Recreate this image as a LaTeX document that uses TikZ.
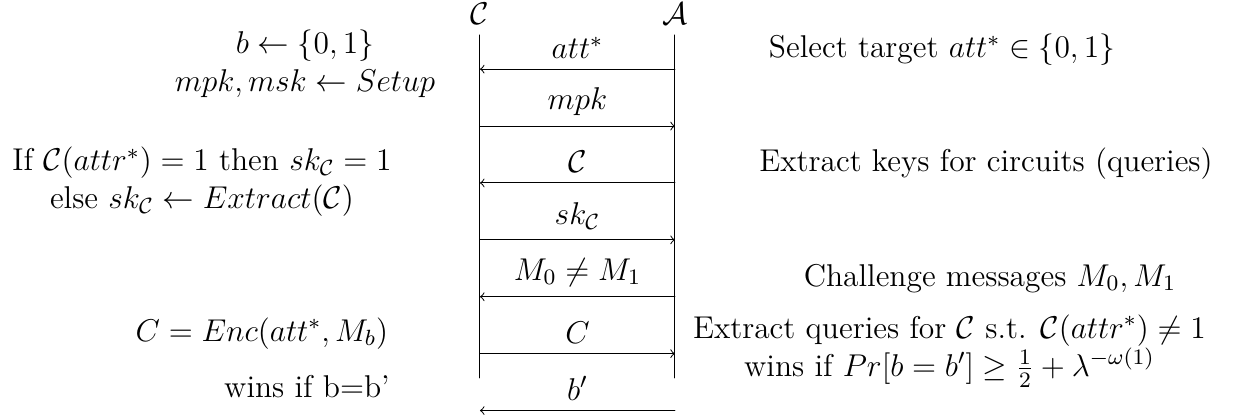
\RequirePackage{fix-cm}
\documentclass[tikz,border=0pt,12pt]{standalone}
\usepackage{amsmath,amssymb}
\begin{document}
\begin{tikzpicture}[line cap=round, line join=round,
    every node/.append style={font=\fontsize{12.6}{15.2}\selectfont}]
  \useasboundingbox (-6.748,0.492) rectangle (10.699,-5.356);
  % lifelines of challenger and adversary
  \coordinate (ctop) at (0,0);
  \coordinate (cbot) at (0,-4.82);
  \coordinate (atop) at (2.74,0);
  \coordinate (abot) at (2.74,-4.82);
  \draw (ctop) -- (cbot);
  \draw (atop) -- (abot);
  \node[above] (chal) at (ctop) {$\mathcal{C}$};
  \node[above] (adv) at (atop) {$\mathcal{A}$};
  \foreach \i in {1,...,7} {
    \coordinate (l\i) at (0,{-0.48-0.8*(\i-1)});
    \coordinate (r\i) at (2.74,{-0.48-0.8*(\i-1)});
  }
  % messages
  \draw[->] (r1) -- node[above] (m1) {$att^*$} (l1);
  \draw[->] (l2) -- node[above] (m2) {$mpk$} (r2);
  \draw[->] (r3) -- node[above] (m3) {$\mathcal{C}$} (l3);
  \draw[->] (l4) -- node[above] (m4) {$sk_{\mathcal{C}}$} (r4);
  \draw[->] (r5) -- node[above] (m5) {$M_0 \neq M_1$} (l5);
  \draw[->] (l6) -- node[above] (m6) {$C$} (r6);
  \draw[->] (r7) -- node[above] (m7) {$b'$} (l7);
  % challenger side
  \node[anchor=base, align=center] (setup) at (-2.46,-0.801)
    {$b \leftarrow \{0,1\}$\\ $mpk, msk \leftarrow Setup$};
  \node[anchor=base, align=center] (keys) at (-3.908,-2.446)
    {If $\mathcal{C}(attr^*) = 1$ then $sk_{\mathcal{C}} = 1$\\ else $sk_{\mathcal{C}} \leftarrow Extract(\mathcal{C})$};
  \node[anchor=base] (enc) at (-3.065,-4.302) {$C = Enc(att^*, M_b)$};
  \node[anchor=base] (winc) at (-2.432,-5.103) {wins if b=b'};
  % adversary side
  \node[anchor=base] (target) at (6.495,-0.323) {Select target $att^* \in \{0,1\}$};
  \node[anchor=base] (extr) at (7.114,-1.926) {Extract keys for circuits (queries)};
  \node[anchor=base] (chall) at (7.17,-3.529) {Challenge messages $M_0, M_1$};
  \node[anchor=base, align=center] (wina) at (6.6,-4.80)
    {Extract queries for $\mathcal{C}$ s.t. $\mathcal{C}(attr^*) \neq 1$\\ wins if $Pr[b = b'] \geq \frac{1}{2} + \lambda^{-\omega(1)}$};
\end{tikzpicture}
\end{document}
